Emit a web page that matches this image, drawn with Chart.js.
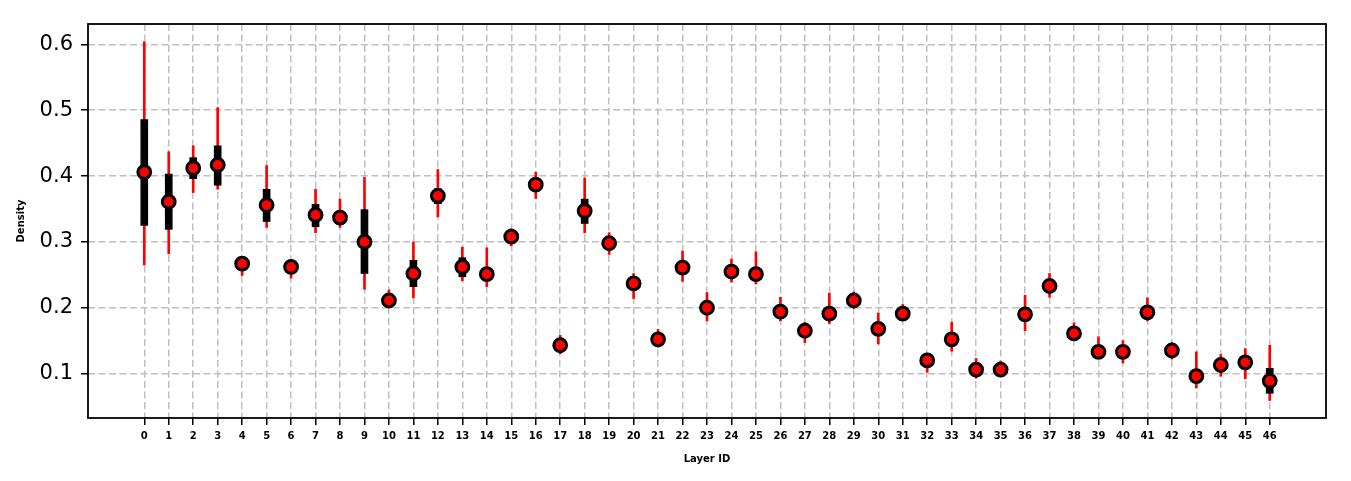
<!DOCTYPE html>
<html><head><meta charset="utf-8">
<script src="https://cdn.jsdelivr.net/npm/chart.js@4.4.1/dist/chart.umd.min.js"></script>
<style>html,body{margin:0;padding:0;background:#fff;} #wrap{width:1351px;height:481px;position:relative;}</style>
</head><body><div id="wrap"><canvas id="c" width="1351" height="481"></canvas></div>
<script>
const layers = [0,1,2,3,4,5,6,7,8,9,10,11,12,13,14,15,16,17,18,19,20,21,22,23,24,25,26,27,28,29,30,31,32,33,34,35,36,37,38,39,40,41,42,43,44,45,46];
const medians = [0.406,0.361,0.412,0.417,0.267,0.356,0.262,0.341,0.337,0.300,0.211,0.252,0.370,0.262,0.251,0.308,0.387,0.143,0.347,0.298,0.237,0.152,0.261,0.200,0.255,0.251,0.194,0.165,0.191,0.211,0.168,0.191,0.120,0.152,0.106,0.106,0.190,0.233,0.161,0.133,0.133,0.193,0.135,0.096,0.113,0.117,0.089];
const whiskerLow = [0.265,0.282,0.375,0.380,0.249,0.322,0.245,0.314,0.322,0.228,0.202,0.215,0.338,0.241,0.232,0.294,0.366,0.130,0.314,0.281,0.214,0.140,0.240,0.180,0.239,0.236,0.180,0.147,0.176,0.199,0.145,0.181,0.102,0.134,0.093,0.097,0.165,0.216,0.150,0.123,0.116,0.180,0.122,0.078,0.096,0.092,0.059];
const whiskerHigh = [0.604,0.437,0.446,0.504,0.275,0.416,0.270,0.380,0.365,0.398,0.227,0.300,0.410,0.292,0.291,0.320,0.406,0.158,0.397,0.314,0.252,0.167,0.286,0.223,0.274,0.285,0.216,0.178,0.222,0.224,0.192,0.205,0.131,0.178,0.123,0.119,0.219,0.252,0.177,0.156,0.150,0.215,0.147,0.133,0.129,0.138,0.143];
const boxLow = [0.325,0.319,0.396,0.386,0.260,0.331,0.256,0.323,0.330,0.252,0.205,0.232,0.358,0.247,0.245,0.302,0.380,0.137,0.328,0.292,0.231,0.146,0.255,0.194,0.249,0.245,0.188,0.159,0.185,0.205,0.162,0.185,0.114,0.146,0.100,0.100,0.184,0.227,0.155,0.127,0.127,0.187,0.129,0.090,0.107,0.110,0.070];
const boxHigh = [0.486,0.403,0.428,0.446,0.274,0.380,0.268,0.357,0.344,0.349,0.217,0.272,0.381,0.276,0.258,0.314,0.394,0.149,0.365,0.304,0.243,0.158,0.267,0.206,0.261,0.257,0.200,0.171,0.197,0.217,0.174,0.197,0.126,0.158,0.112,0.112,0.196,0.239,0.167,0.139,0.139,0.199,0.141,0.102,0.119,0.124,0.108];
const yTicks = [0.1,0.2,0.3,0.4,0.5,0.6];
const xTitle = 'Layer ID';
const yTitle = 'Density';

const whiskerData = layers.map((l,i)=>({x:l, y:[whiskerLow[i], whiskerHigh[i]]}));
const boxData = layers.map((l,i)=>({x:l, y:[boxLow[i], boxHigh[i]]}));
const dotData = layers.map((l,i)=>({x:l, y:medians[i]}));

const frame = {
  id:'frame',
  beforeDatasetsDraw(chart){
    const a = chart.chartArea, ctx = chart.ctx;
    ctx.save();
    ctx.strokeStyle = '#000'; ctx.lineWidth = 1.8;
    ctx.strokeRect(a.left, a.top, a.right-a.left, a.bottom-a.top);
    ctx.restore();
  }
};

new Chart(document.getElementById('c'), {
  type:'bar',
  data:{ datasets:[
    {type:'scatter', data:dotData, pointRadius:6.4, pointBackgroundColor:'#ff0000', pointBorderColor:'#000', pointBorderWidth:3, pointHoverRadius:6.4, order:0},
    {type:'bar', data:boxData, backgroundColor:'#000', borderWidth:0, barThickness:7, grouped:false, order:1},
    {type:'bar', data:whiskerData, backgroundColor:'#ff0000', borderWidth:0, barThickness:2, grouped:false, order:2}
  ]},
  options:{
    responsive:false, animation:false, devicePixelRatio:1,
    layout:{padding:{left:0, right:25, top:24, bottom:0}},
    plugins:{legend:{display:false}, tooltip:{enabled:false}},
    scales:{
      x:{type:'linear', min:-2.3, max:48.3, offset:false,
        afterBuildTicks(s){ s.ticks = layers.map(v=>({value:v})); },
        afterFit(s){ s.height = 63; },
        grid:{offset:false, color:'#bfbfbf', lineWidth:1.5, tickLength:7, tickColor:'#000', tickWidth:1.5, tickBorderDash:[]},
        border:{display:false, dash:[7,3.5]},
        ticks:{autoSkip:false, maxRotation:0, padding:5, color:'#000', font:{family:'DejaVu Sans', size:10, weight:'bold'}, callback:(v)=>String(v)},
        title:{display:true, text:xTitle, color:'#000', font:{family:'DejaVu Sans', size:10, weight:'bold'}, padding:{top:0,bottom:16}}
      },
      y:{type:'linear', min:0.0325, max:0.631,
        afterBuildTicks(s){ s.ticks = yTicks.map(v=>({value:v})); },
        afterFit(s){ s.width = 88; },
        grid:{color:'#bfbfbf', lineWidth:1.5, tickLength:7, tickColor:'#000', tickWidth:1.5, tickBorderDash:[]},
        border:{display:false, dash:[7,3.5]},
        ticks:{autoSkip:false, padding:8, color:'#000', font:{family:'DejaVu Sans', size:21}, callback:(v)=>v.toFixed(1)},
        title:{display:true, text:yTitle, color:'#000', font:{family:'DejaVu Sans', size:10, weight:'bold'}, padding:{top:15,bottom:0}}
      }
    }
  },
  plugins:[frame]
});
</script></body></html>
